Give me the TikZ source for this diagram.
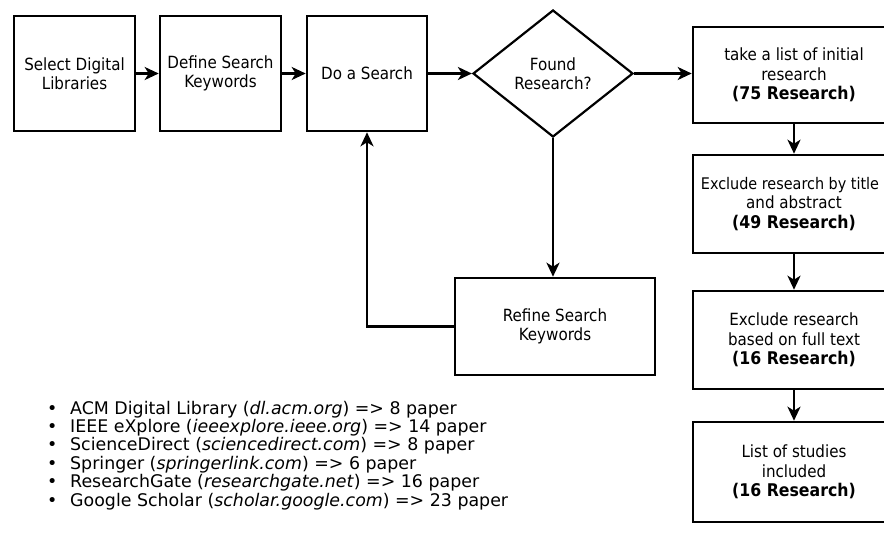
\documentclass[tikz,border=0pt]{standalone}
\usepackage{fontspec}
\setmainfont{DejaVu Sans}
\newfontfamily\boxfont{DejaVu Sans Condensed}
\usetikzlibrary{shapes.geometric,arrows.meta}
\newcommand{\cnt}[1]{{\fontsize{17.5}{19.5}\selectfont\bfseries #1}}
\begin{document}
\begin{tikzpicture}[x=1pt,y=-1pt,
  stepbox/.style={draw, line width=2.6pt, rectangle, inner sep=2pt, align=center,
    font=\boxfont\fontsize{16.8}{19.5}\selectfont},
  decision/.style={draw, line width=2.2pt, diamond, inner sep=0pt, align=center,
    minimum width=160pt, minimum height=127pt,
    font=\boxfont\fontsize{16.8}{19.5}\selectfont},
  conn/.style={line width=2.4pt, -{Stealth[length=14pt,width=13pt,inset=4pt]}},
  item/.style={inner sep=0pt, anchor=base west, font=\fontsize{17.4}{18}\selectfont}]
\useasboundingbox (0,0) rectangle (884,533);
\clip (0,0) rectangle (884,533);
% top row
\node[stepbox, minimum width=121pt, minimum height=115pt] (sel) at (74.5,73.5) {Select Digital\\Libraries};
\node[stepbox, minimum width=121pt, minimum height=115pt] (def) at (220.5,73.5) {Define Search\\Keywords};
\node[stepbox, minimum width=120pt, minimum height=115pt] (do) at (367,73.5) {Do a Search};
\node[decision] (found) at (553,73.5) {Found\\Research?};
% right column
\node[stepbox, minimum width=202pt, minimum height=96pt] (take) at (794,75) {take a list of initial\\research\\\cnt{(75 Research)}};
\node[stepbox, minimum width=202pt, minimum height=98pt] (excl1) at (794,204) {\hspace*{-8pt}{\fontsize{16}{19.5}\selectfont Exclude research by title}\\and abstract\\\cnt{(49 Research)}};
\node[stepbox, minimum width=202pt, minimum height=98pt] (excl2) at (794,340) {Exclude research\\based on full text\\\cnt{(16 Research)}};
\node[stepbox, minimum width=202pt, minimum height=100pt] (list) at (794,472) {List of studies\\included\\\cnt{(16 Research)}};
% refine
\node[stepbox, minimum width=200pt, minimum height=97pt] (ref) at (555,326.5) {Refine Search\\Keywords};
% connectors
\draw[conn] (sel) -- (def);
\draw[conn] (def) -- (do);
\draw[conn] (do) -- (found);
\draw[conn] (found.east) -- (found.east -| take.west);
\draw[conn] (take) -- (excl1);
\draw[conn] (excl1) -- (excl2);
\draw[conn] (excl2) -- (list);
\draw[conn] (found.south) -- (found.south |- ref.north);
\draw[conn] (ref.west) -| (do.south);
% list
\node[item] (l1) at (47,414) {\makebox[23pt][l]{•}ACM Digital Library (\textit{dl.acm.org}) => 8 paper};
\node[item] (l2) at (47,432.4) {\makebox[23pt][l]{•}IEEE eXplore (\textit{ieeexplore.ieee.org}) => 14 paper};
\node[item] (l3) at (47,450.8) {\makebox[23pt][l]{•}ScienceDirect (\textit{sciencedirect.com}) => 8 paper};
\node[item] (l4) at (47,469.2) {\makebox[23pt][l]{•}Springer (\textit{springerlink.com}) => 6 paper};
\node[item] (l5) at (47,487.6) {\makebox[23pt][l]{•}ResearchGate (\textit{researchgate.net}) => 16 paper};
\node[item] (l6) at (47,506) {\makebox[23pt][l]{•}Google Scholar (\textit{scholar.google.com}) => 23 paper};
\end{tikzpicture}
\end{document}
